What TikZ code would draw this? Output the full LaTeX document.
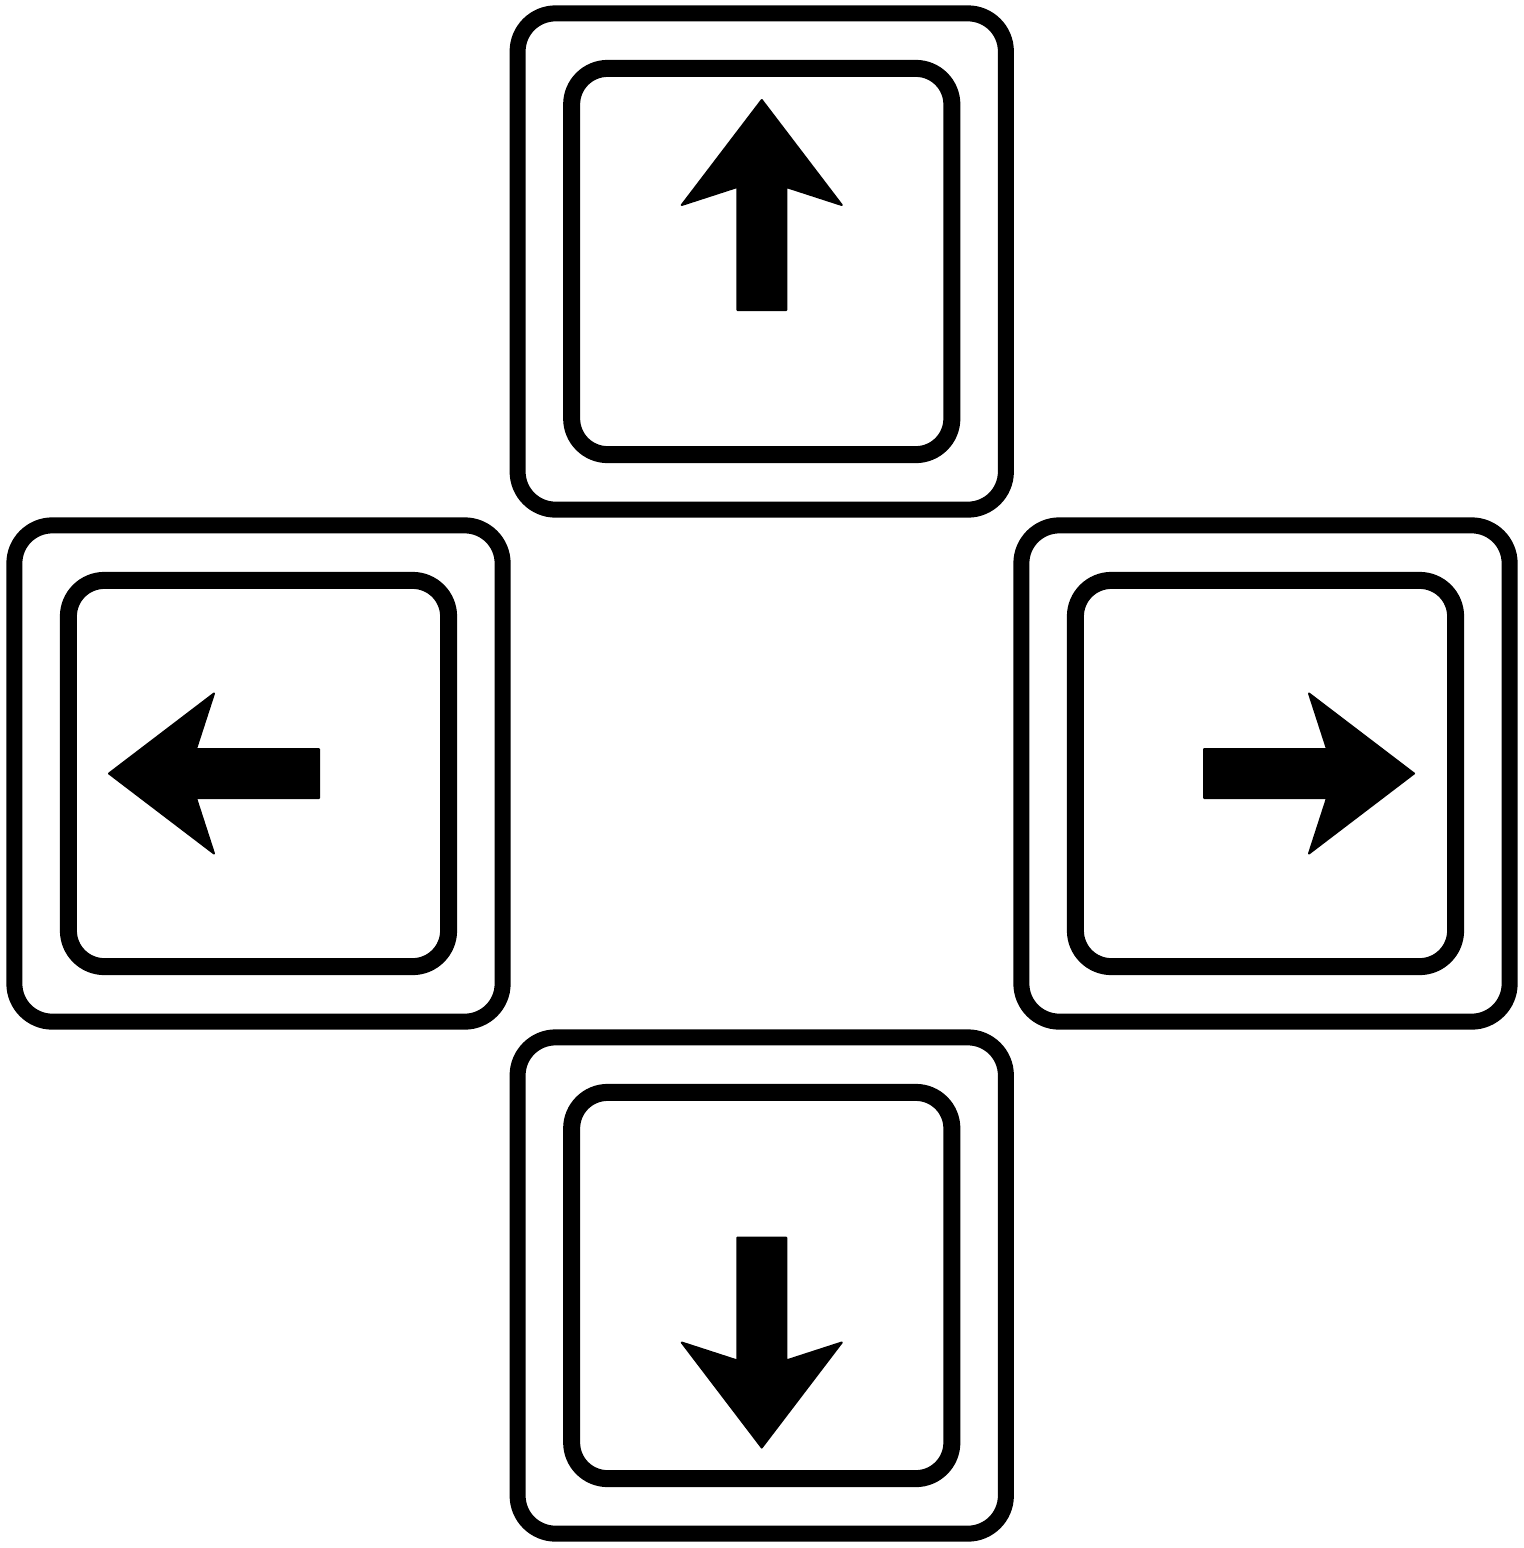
\documentclass[tikz,border=0pt]{standalone}
\usepackage{tikz}
\usetikzlibrary{calc}
\tikzset{
   keycap/.style={draw=black, line width=0.16cm, rounded corners=0.38cm,
                  minimum width=4.88cm, minimum height=4.96cm, inner sep=0pt},
   keyface/.style={draw=black, line width=0.17cm, rounded corners=0.36cm,
                   minimum width=3.80cm, minimum height=3.86cm, inner sep=0pt},
   arrowglyph/.style={fill=black, draw=black, line width=0.02cm, line join=round}
}
% arrow glyph drawn pointing up, then turned: #1 = centre, #2 = angle
\newcommand{\keyarrow}[2]{%
  \filldraw[arrowglyph, shift={#1}, rotate=#2]
    (0,-105) -- (80,0) -- (24.5,-18) -- (24.5,105) -- (-24.5,105) -- (-24.5,-18) -- (-80,0) -- cycle;}

\begin{document}
\begin{tikzpicture}[x=0.01cm, y=-0.01cm]
\useasboundingbox (0,0) rectangle (1524,1548);
%
\node[keycap]  (up)      at (761.75, 261.5) {};
\node[keyface] (upface)  at (up) {};
\node[keycap]  (left)    at (258.5, 773.5) {};
\node[keyface] (leftface) at (left) {};
\node[keycap]  (right)   at (1265.5, 773.5) {};
\node[keyface] (rightface) at (right) {};
\node[keycap]  (down)    at (761.75, 1285.5) {};
\node[keyface] (downface) at (down) {};
%
\keyarrow{(761.75, 205)}{0}
\keyarrow{(214, 773.5)}{90}
\keyarrow{(1309, 773.5)}{-90}
\keyarrow{(761.75, 1342.5)}{180}
\end{tikzpicture}
\end{document}
